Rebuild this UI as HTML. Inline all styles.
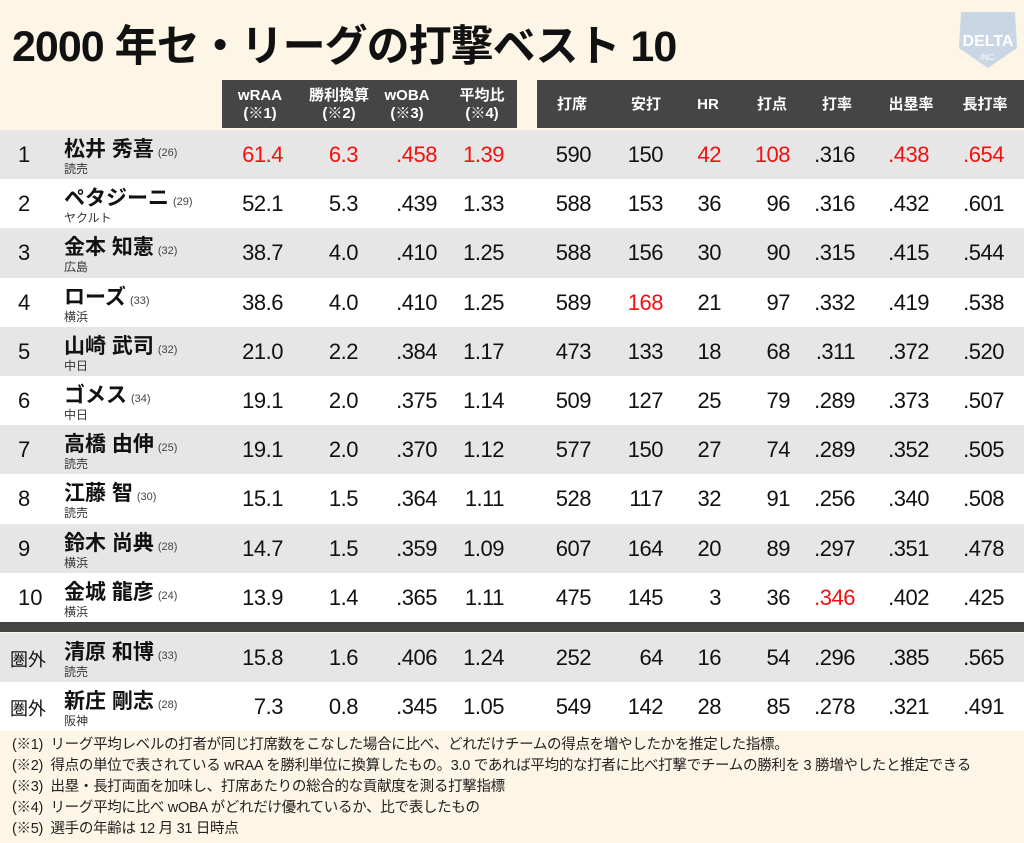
<!DOCTYPE html>
<html><head><meta charset="utf-8"><style>
*{margin:0;padding:0;box-sizing:border-box}
body{width:1024px;height:843px;background:#fdf5e6;font-family:"Liberation Sans","Noto Sans CJK JP",sans-serif;position:relative;overflow:hidden;color:#111}
.title{position:absolute;left:12px;top:12px;font-size:43px;font-weight:bold;letter-spacing:-1px;white-space:nowrap}
.hb{position:absolute;top:80px;height:48px;background:#454545;color:#fff;font-weight:bold;font-size:15px}
.hb span{position:absolute;text-align:center;line-height:18px;width:80px}
.row{position:absolute;left:0;width:1024px;height:49px;background:#fff}
.row.g{background:#e6e6e6}
.rk{position:absolute;left:18px;top:12px;font-size:22px}
.nm{position:absolute;left:64px;top:3px;font-size:21px;font-weight:bold;white-space:nowrap}
.nm small{font-size:11px;font-weight:normal;color:#444;margin-left:4px}
.tm{position:absolute;left:64px;top:30px;font-size:12px;color:#333}
.v{position:absolute;top:12px;font-size:22px;text-align:right;width:80px;letter-spacing:-0.5px}
.r{color:#f01010}
.sep{position:absolute;left:0;top:622px;width:1024px;height:10px;background:#444}
.notes{position:absolute;left:12px;top:735px;font-size:14.5px;line-height:21px;color:#222;white-space:nowrap;letter-spacing:-0.3px}
</style></head><body>
<div class="title">2000 年セ・リーグの打撃ベスト 10</div>
<svg style="position:absolute;left:955px;top:8px" width="66" height="62"><path d="M6 4 L60 4 L62 40 L33 60 L4 40 Z" fill="#c9d6e3"/><text x="33" y="38" text-anchor="middle" font-size="16" font-weight="bold" fill="#fff" font-family="Liberation Sans">DELTA</text><text x="33" y="52" text-anchor="middle" font-size="8" fill="#fff" font-family="Liberation Sans">INC.</text></svg>
<div class="hb" style="left:222px;width:295px">
<span style="left:-2px;top:7px">wRAA<br>(※1)</span>
<span style="left:77px;top:7px">勝利換算<br>(※2)</span>
<span style="left:145px;top:7px">wOBA<br>(※3)</span>
<span style="left:220px;top:7px">平均比<br>(※4)</span>
</div>
<div class="hb" style="left:537px;width:487px">
<span style="left:-5px;top:16px">打席</span>
<span style="left:69px;top:16px">安打</span>
<span style="left:131px;top:16px">HR</span>
<span style="left:195px;top:16px">打点</span>
<span style="left:260px;top:16px">打率</span>
<span style="left:334px;top:16px">出塁率</span>
<span style="left:408px;top:16px">長打率</span>
</div>
<div id="rows"></div>
<div class="sep"></div>
<div class="notes">
(※1)&nbsp; リーグ平均レベルの打者が同じ打席数をこなした場合に比べ、どれだけチームの得点を増やしたかを推定した指標。<br>
(※2)&nbsp; 得点の単位で表されている wRAA を勝利単位に換算したもの。3.0 であれば平均的な打者に比べ打撃でチームの勝利を 3 勝増やしたと推定できる<br>
(※3)&nbsp; 出塁・長打両面を加味し、打席あたりの総合的な貢献度を測る打撃指標<br>
(※4)&nbsp; リーグ平均に比べ wOBA がどれだけ優れているか、比で表したもの<br>
(※5)&nbsp; 選手の年齢は 12 月 31 日時点
</div>
<script>
var d=[
["1","松井 秀喜","26","読売",["61.4*","6.3*",".458*","1.39*","590","150","42*","108*",".316",".438*",".654*"]],
["2","ペタジーニ","29","ヤクルト",["52.1","5.3",".439","1.33","588","153","36","96",".316",".432",".601"]],
["3","金本 知憲","32","広島",["38.7","4.0",".410","1.25","588","156","30","90",".315",".415",".544"]],
["4","ローズ","33","横浜",["38.6","4.0",".410","1.25","589","168*","21","97",".332",".419",".538"]],
["5","山崎 武司","32","中日",["21.0","2.2",".384","1.17","473","133","18","68",".311",".372",".520"]],
["6","ゴメス","34","中日",["19.1","2.0",".375","1.14","509","127","25","79",".289",".373",".507"]],
["7","高橋 由伸","25","読売",["19.1","2.0",".370","1.12","577","150","27","74",".289",".352",".505"]],
["8","江藤 智","30","読売",["15.1","1.5",".364","1.11","528","117","32","91",".256",".340",".508"]],
["9","鈴木 尚典","28","横浜",["14.7","1.5",".359","1.09","607","164","20","89",".297",".351",".478"]],
["10","金城 龍彦","24","横浜",["13.9","1.4",".365","1.11","475","145","3","36",".346*",".402",".425"]],
["圏外","清原 和博","33","読売",["15.8","1.6",".406","1.24","252","64","16","54",".296",".385",".565"]],
["圏外","新庄 剛志","28","阪神",["7.3","0.8",".345","1.05","549","142","28","85",".278",".321",".491"]]];
var R=[283,358,437,504,591,663,721,790,855,929,1004],h="";
d.forEach(function(r,i){var top=i<10?130+i*49.2:633+(i-10)*49;var g=(i%2==0);
h+='<div class="row'+(g?' g':'')+'" style="top:'+top+'px;height:'+(i<10?49.2:49)+'px"><div class="rk"'+(r[0]=="圏外"?' style="font-size:18px;left:10px;top:13px"':'')+'>'+r[0]+'</div><div class="nm">'+r[1]+'<small>('+r[2]+')</small></div><div class="tm">'+r[3]+'</div>';
r[4].forEach(function(v,j){var red=v.indexOf("*")>=0;v=v.replace("*","");h+='<div class="v'+(red?' r':'')+'" style="left:'+(R[j]-80)+'px">'+v+'</div>';});
h+='</div>';});
document.getElementById("rows").innerHTML=h;
</script>
</body></html>
